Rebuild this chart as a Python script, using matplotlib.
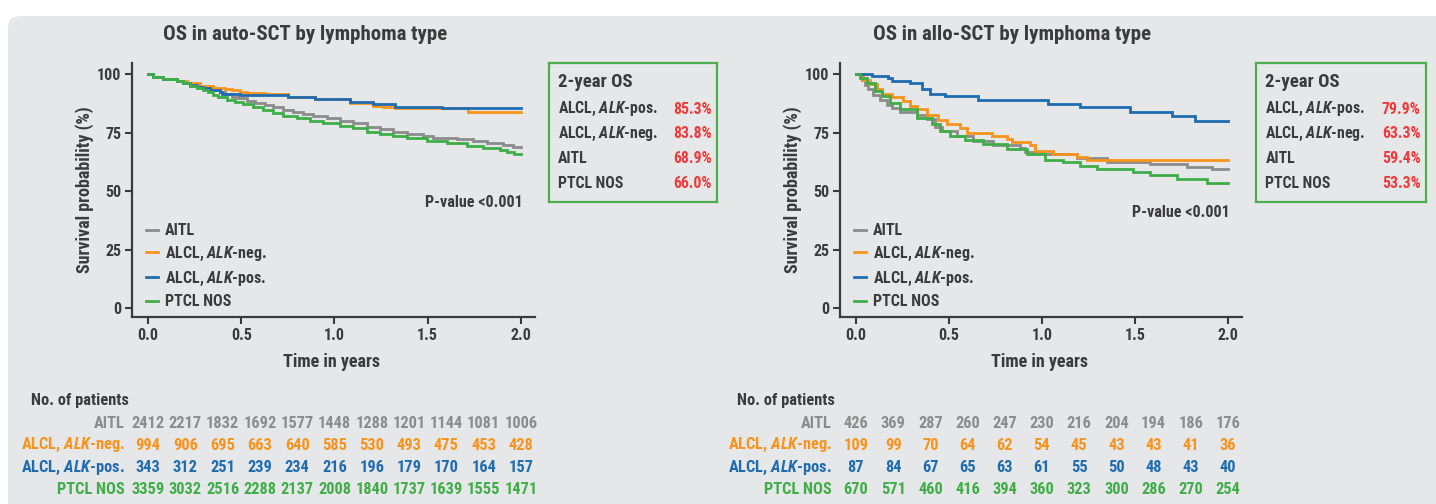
import matplotlib
matplotlib.use('Agg')
import matplotlib.pyplot as plt
import matplotlib.transforms as mtransforms
from matplotlib import font_manager
from matplotlib.lines import Line2D
from matplotlib.patches import FancyBboxPatch

W, H = 1436, 504

# prefer a narrow sans if one is around
names = {f.name for f in font_manager.fontManager.ttflist}
FONT = 'Roboto'
for cand in ['Roboto Condensed', 'Liberation Sans Narrow', 'Open Sans Condensed', 'Noto Sans Condensed']:
    if cand in names:
        FONT = cand
        break
plt.rcParams['font.family'] = [FONT, 'DejaVu Sans']
plt.rcParams['font.weight'] = 'bold'
plt.rcParams['axes.labelweight'] = 'bold'
plt.rcParams['mathtext.fontset'] = 'custom'
plt.rcParams['mathtext.bfit'] = FONT + ':italic:bold'
plt.rcParams['mathtext.rm'] = FONT + ':bold'

DARK = '#3b3b3b'
RED = '#ee3a3a'
BOX_GREEN = '#4cae4f'

GROUPS = ['AITL', r'ALCL, $\mathbfit{ALK}$-neg.', r'ALCL, $\mathbfit{ALK}$-pos.', 'PTCL NOS']
COLORS = ['#8c8c8c', '#f7941d', '#1f6cb0', '#3fae49']

# ---------------- auto-SCT curves ----------------
auto_aitl_t = [0, 0.029, 0.082, 0.154, 0.189, 0.225, 0.261, 0.297, 0.341, 0.386, 0.413, 0.449, 0.484, 0.529,
               0.574, 0.627, 0.672, 0.726, 0.779, 0.833, 0.886, 0.958, 1.029, 1.101, 1.172, 1.244, 1.315, 1.387,
               1.476, 1.530, 1.655, 1.744, 1.816, 1.905, 1.959, 2.0]
auto_aitl_s = [100, 98.9, 97.9, 97.0, 96.0, 95.0, 94.4, 93.9, 93.2, 92.5, 91.3, 90.3, 89.6, 88.5,
               87.5, 86.8, 85.8, 84.6, 83.9, 82.9, 82.1, 81.1, 80.1, 78.9, 77.5, 76.5, 75.4, 74.4,
               73.5, 72.8, 72.2, 71.4, 70.7, 69.7, 68.9, 68.9]

auto_neg_t = [0, 0.029, 0.082, 0.154, 0.207, 0.279, 0.35, 0.413, 0.449, 0.493, 0.529, 0.627, 0.752, 0.895,
              1.083, 1.208, 1.262, 1.324, 1.718, 2.0]
auto_neg_s = [100, 98.9, 97.9, 97.0, 96.0, 95.0, 94.2, 93.6, 93.0, 92.4, 91.7, 91.5, 90.0, 89.2,
              87.7, 86.5, 85.8, 85.5, 83.8, 83.8]

auto_pos_t = [0, 0.029, 0.082, 0.154, 0.189, 0.225, 0.261, 0.297, 0.332, 0.386, 0.395, 0.493, 0.752, 0.895,
              1.083, 1.208, 1.324, 1.378, 1.575, 2.0]
auto_pos_s = [100, 98.9, 97.9, 97.0, 96.0, 95.5, 94.6, 93.9, 93.2, 92.2, 91.3, 91.0, 90.0, 89.2,
              88.2, 87.0, 86.1, 85.7, 85.3, 85.3]

auto_ptcl_t = [0, 0.029, 0.082, 0.154, 0.189, 0.225, 0.261, 0.297, 0.323, 0.350, 0.377, 0.422, 0.466, 0.511,
               0.565, 0.618, 0.672, 0.726, 0.797, 0.869, 0.940, 1.029, 1.101, 1.172, 1.244, 1.315, 1.387,
               1.494, 1.601, 1.709, 1.798, 1.887, 1.923, 1.96, 2.0]
auto_ptcl_s = [100, 98.9, 97.9, 97.0, 96.0, 95.0, 94.2, 93.2, 92.2, 91.0, 90.0, 88.9, 87.9, 87.0,
               85.8, 84.6, 83.2, 82.2, 81.1, 79.9, 78.9, 77.8, 76.8, 75.4, 74.4, 73.5, 72.5,
               71.4, 70.4, 69.4, 68.5, 67.5, 66.5, 66.0, 66.0]

# ---------------- allo-SCT curves ----------------
allo_aitl_t = [0, 0.030, 0.048, 0.066, 0.093, 0.129, 0.165, 0.192, 0.237, 0.326, 0.380, 0.425, 0.461, 0.541,
               0.631, 0.738, 0.882, 0.909, 1.007, 1.186, 1.348, 1.581, 1.778, 1.912, 2.0]
allo_aitl_s = [100, 97.4, 95.3, 93.6, 91.0, 88.9, 86.8, 85.3, 83.9, 82.5, 80.6, 77.5, 75.6, 73.6,
               71.4, 69.7, 68.5, 66.8, 65.7, 64.3, 62.3, 61.5, 60.4, 59.4, 59.4]

allo_neg_t = [0, 0.039, 0.075, 0.111, 0.138, 0.192, 0.254, 0.290, 0.326, 0.380, 0.443, 0.487, 0.559, 0.595,
              0.729, 0.810, 0.837, 0.935, 0.962, 1.061, 1.186, 1.240, 2.0]
allo_neg_s = [100, 97.4, 95.6, 93.6, 91.5, 90.0, 88.6, 86.5, 85.0, 82.5, 80.3, 78.5, 77.1, 74.9,
              73.5, 72.2, 70.8, 69.7, 67.1, 65.7, 64.7, 63.3, 63.3]

allo_pos_t = [0, 0.084, 0.174, 0.192, 0.29, 0.353, 0.398, 0.478, 0.658, 1.034, 1.204, 1.473, 1.697, 1.823, 2.0]
allo_pos_s = [100, 99.3, 98.2, 97.2, 96.3, 93.4, 91.5, 90.5, 88.8, 87.0, 85.9, 83.9, 82.1, 79.9, 79.9]

allo_ptcl_t = [0, 0.022, 0.057, 0.102, 0.138, 0.183, 0.237, 0.326, 0.407, 0.452, 0.505, 0.586, 0.685, 0.810,
               0.918, 1.016, 1.115, 1.204, 1.294, 1.491, 1.581, 1.724, 1.885, 2.0]
allo_ptcl_s = [100, 98.2, 96.0, 92.7, 90.7, 87.5, 85.0, 81.1, 78.5, 75.6, 73.6, 71.8, 69.9, 67.9,
               65.7, 63.2, 62.3, 60.8, 59.4, 58.0, 56.8, 55.1, 53.3, 53.3]

# ---------------- 2-year OS (box order) ----------------
BOX_LABELS = [r'ALCL, $\mathbfit{ALK}$-pos.', r'ALCL, $\mathbfit{ALK}$-neg.', 'AITL', 'PTCL NOS']
auto_os2 = [85.3, 83.8, 68.9, 66.0]
allo_os2 = [79.9, 63.3, 59.4, 53.3]

# ---------------- numbers at risk ----------------
RISK_TIMES = [0.0, 0.2, 0.4, 0.6, 0.8, 1.0, 1.2, 1.4, 1.6, 1.8, 2.0]
auto_risk_aitl = [2412, 2217, 1832, 1692, 1577, 1448, 1288, 1201, 1144, 1081, 1006]
auto_risk_neg = [994, 906, 695, 663, 640, 585, 530, 493, 475, 453, 428]
auto_risk_pos = [343, 312, 251, 239, 234, 216, 196, 179, 170, 164, 157]
auto_risk_ptcl = [3359, 3032, 2516, 2288, 2137, 2008, 1840, 1737, 1639, 1555, 1471]
allo_risk_aitl = [426, 369, 287, 260, 247, 230, 216, 204, 194, 186, 176]
allo_risk_neg = [109, 99, 70, 64, 62, 54, 45, 43, 43, 41, 36]
allo_risk_pos = [87, 84, 67, 65, 63, 61, 55, 50, 48, 43, 40]
allo_risk_ptcl = [670, 571, 460, 416, 394, 360, 323, 300, 286, 270, 254]


def fx(px):
    return px / W


def fy(py):
    return 1 - py / H


def DrawPanel(fig, x0, x2, title, title_x, curves, os2, risk, pval_y, box_px, label_x, head_x):
    # axes spans from the y spine to the end of the x axis line
    per_unit = (x2 - x0) / 2.0
    left_px = x0 - 0.085 * per_unit
    right_px = x0 + 2.075 * per_unit
    ax_w = right_px - left_px
    ax = fig.add_axes([fx(left_px), fy(317), ax_w / W, (317 - 63) / H])
    ax.set_facecolor('none')
    for (t, s), c in zip(curves, COLORS):
        ax.plot(t, s, drawstyle='steps-post', color=c, lw=2.0, solid_joinstyle='miter')
    ax.set_xlim(-0.085, 2.075)
    ax.set_ylim(-3.8, 104.7)
    ax.set_xticks([0, 0.5, 1.0, 1.5, 2.0])
    ax.set_xticklabels(['0.0', '0.5', '1.0', '1.5', '2.0'])
    ax.set_yticks([0, 25, 50, 75, 100])
    for side in ['top', 'right']:
        ax.spines[side].set_visible(False)
    for side in ['left', 'bottom']:
        ax.spines[side].set_color(DARK)
        ax.spines[side].set_linewidth(1.6)
    ax.tick_params(length=5, width=1.5, color=DARK, labelsize=11.5, pad=3, labelcolor=DARK)
    ax.set_xlabel('Time in years', fontsize=13, color=DARK)
    ax.set_ylabel('Survival probability (%)', fontsize=13, color=DARK)
    ax.xaxis.set_label_coords(0.495, (317 - 353) / 254)
    ax.yaxis.set_label_coords((x0 - 54 - left_px) / ax_w, 0.5)

    fig.text(fx(title_x), fy(34), title, fontsize=15, color=DARK, ha='center', va='center')

    handles = [Line2D([], [], color=c, lw=2) for c in COLORS]
    ax.legend(handles, GROUPS, loc='lower left', bbox_to_anchor=((x0 - 2 - left_px) / ax_w, 0.03),
              frameon=False, handlelength=0.75, handletextpad=0.45, labelspacing=0.42, fontsize=11.5,
              labelcolor=DARK, borderaxespad=0, borderpad=0)

    ax.text(2.01, pval_y, 'P-value <0.001', fontsize=11.6, color=DARK, ha='right', va='center')

    # 2-year OS box
    bx0, by0, bx1, by1 = box_px
    bax = fig.add_axes([fx(bx0), fy(by1), (bx1 - bx0) / W, (by1 - by0) / H])
    bax.set_facecolor('none')
    bax.set_xticks([])
    bax.set_yticks([])
    for sp in bax.spines.values():
        sp.set_color(BOX_GREEN)
        sp.set_linewidth(1.6)
    bax.text(0.055, (by1 - 82) / (by1 - by0), '2-year OS', fontsize=13.5, color=DARK, va='center',
             transform=bax.transAxes)
    for i, (lab, val) in enumerate(zip(BOX_LABELS, os2)):
        yy = (by1 - (109 + 24.7 * i)) / (by1 - by0)
        bax.text(0.055, yy, lab, fontsize=11.3, color=DARK, va='center', transform=bax.transAxes)
        bax.text(0.968, yy, '%.1f%%' % val, fontsize=11.3, color=RED, va='center', ha='right',
                 transform=bax.transAxes)

    # numbers at risk
    fig.text(fx(head_x), fy(401), 'No. of patients', fontsize=11.8, color=DARK, va='center')
    trans = mtransforms.blended_transform_factory(ax.transData, fig.transFigure)
    for i, (lab, row, c) in enumerate(zip(GROUPS, risk, COLORS)):
        yy = fy(423 + 22.3 * i)
        fig.text(fx(label_x), yy, lab, fontsize=11.8, color=c, ha='right', va='center')
        for t, n in zip(RISK_TIMES, row):
            ax.text(t, yy, str(n), fontsize=11.8, color=c, ha='center', va='center', transform=trans,
                    clip_on=False)
    return ax


fig = plt.figure(figsize=(W / 100, H / 100), dpi=100)
fig.patch.set_facecolor('white')
panel = FancyBboxPatch((0.08, -0.3), 15.0, 5.18, boxstyle='round,pad=0,rounding_size=0.12',
                       transform=fig.dpi_scale_trans, facecolor='#e6e7e9', edgecolor='none', zorder=-10)
fig.patches.append(panel)

DrawPanel(fig, 148, 521, 'OS in auto-SCT by lymphoma type', 305,
          [(auto_aitl_t, auto_aitl_s), (auto_neg_t, auto_neg_s), (auto_pos_t, auto_pos_s),
           (auto_ptcl_t, auto_ptcl_s)],
          auto_os2, [auto_risk_aitl, auto_risk_neg, auto_risk_pos, auto_risk_ptcl],
          44.9, (549, 63, 717, 202), 125, 31)

DrawPanel(fig, 856, 1228, 'OS in allo-SCT by lymphoma type', 1012,
          [(allo_aitl_t, allo_aitl_s), (allo_neg_t, allo_neg_s), (allo_pos_t, allo_pos_s),
           (allo_ptcl_t, allo_ptcl_s)],
          allo_os2, [allo_risk_aitl, allo_risk_neg, allo_risk_pos, allo_risk_ptcl],
          41.0, (1256, 63, 1426, 202), 832, 737)

fig.savefig('out.png', dpi=100, facecolor=fig.get_facecolor())
